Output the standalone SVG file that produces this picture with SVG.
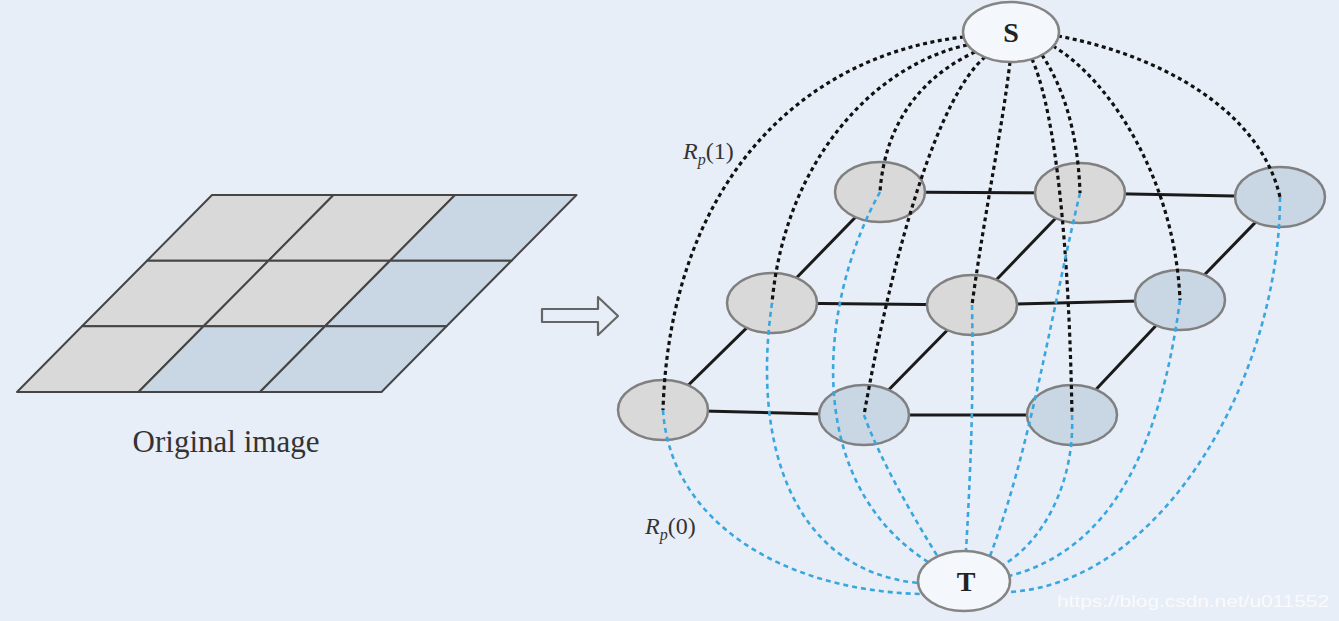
<svg xmlns="http://www.w3.org/2000/svg" width="1339" height="621" viewBox="0 0 1339 621">
<style>
.cellg{fill:#d9d9d9;stroke:#454545;stroke-width:2;stroke-linejoin:round}
.cellb{fill:#c9d6e4;stroke:#454545;stroke-width:2;stroke-linejoin:round}
.edge{stroke:#1a1a1a;stroke-width:3;fill:none}
.ng{fill:#d9d9d9;stroke:#808080;stroke-width:2.5}
.nb{fill:#c9d6e4;stroke:#808080;stroke-width:2.5}
.st{fill:#f4f7fb;stroke:#858585;stroke-width:2.5}
.bd{fill:none;stroke:#111;stroke-width:3.2;stroke-dasharray:4 3.5}
.ld{fill:none;stroke:#3aa6de;stroke-width:2.6;stroke-dasharray:5 4}
.lbl{font-family:"Liberation Serif","Times New Roman",serif;fill:#333}
.nt{font-family:"Liberation Serif","Times New Roman",serif;font-weight:bold;font-size:28px;fill:#222;text-anchor:middle}
.wm{font-family:"Liberation Sans",Arial,sans-serif;font-size:16px;fill:#ffffff;fill-opacity:0.75}
</style>
<rect width="1339" height="621" fill="#e8eef7"/>

<g id="original-image">
<polygon class="cellg" points="212,195 333.5,195 268.5,260.7 147,260.7"/>
<polygon class="cellg" points="333.5,195 455,195 390,260.7 268.5,260.7"/>
<polygon class="cellb" points="455,195 576.5,195 511.5,260.7 390,260.7"/>
<polygon class="cellg" points="147,260.7 268.5,260.7 203.5,326.3 82,326.3"/>
<polygon class="cellg" points="268.5,260.7 390,260.7 325,326.3 203.5,326.3"/>
<polygon class="cellb" points="390,260.7 511.5,260.7 446.5,326.3 325,326.3"/>
<polygon class="cellg" points="82,326.3 203.5,326.3 138.5,392 17,392"/>
<polygon class="cellb" points="203.5,326.3 325,326.3 260,392 138.5,392"/>
<polygon class="cellb" points="325,326.3 446.5,326.3 381.5,392 260,392"/>
<text class="lbl" x="226" y="452" font-size="31" text-anchor="middle">Original image</text>
</g>

<g id="arrow">
<polygon points="542,309 598,309 598,297 618,316 598,335 598,322 542,322" fill="none" stroke="#666" stroke-width="2.2" stroke-linejoin="round"/>
</g>

<g id="grid-edges">
<line class="edge" x1="880" y1="192" x2="1080" y2="193"/>
<line class="edge" x1="1080" y1="193" x2="1280" y2="197"/>
<line class="edge" x1="772" y1="303" x2="972" y2="305"/>
<line class="edge" x1="972" y1="305" x2="1180" y2="300"/>
<line class="edge" x1="663" y1="410" x2="864" y2="415"/>
<line class="edge" x1="864" y1="415" x2="1072" y2="415"/>
<line class="edge" x1="663" y1="410" x2="772" y2="303"/>
<line class="edge" x1="772" y1="303" x2="880" y2="192"/>
<line class="edge" x1="864" y1="415" x2="972" y2="305"/>
<line class="edge" x1="972" y1="305" x2="1080" y2="193" stroke-width="3.6"/>
<line class="edge" x1="1072" y1="415" x2="1180" y2="300"/>
<line class="edge" x1="1180" y1="300" x2="1280" y2="197"/>
</g>

<g id="node-TL"><ellipse class="ng" cx="880" cy="192" rx="45" ry="30"/></g>
<g id="node-TM"><ellipse class="ng" cx="1080" cy="193" rx="45" ry="30"/></g>
<g id="node-TR"><ellipse class="nb" cx="1280" cy="197" rx="45" ry="30"/></g>
<g id="node-ML"><ellipse class="ng" cx="772" cy="303" rx="45" ry="30"/></g>
<g id="node-MC"><ellipse class="ng" cx="972" cy="305" rx="45" ry="30"/></g>
<g id="node-MR"><ellipse class="nb" cx="1180" cy="300" rx="45" ry="30"/></g>
<g id="node-BL"><ellipse class="ng" cx="663" cy="410" rx="45" ry="30"/></g>
<g id="node-BC"><ellipse class="nb" cx="864" cy="415" rx="45" ry="30"/></g>
<g id="node-BR"><ellipse class="nb" cx="1072" cy="415" rx="45" ry="30"/></g>

<g id="connectors">
<path class="bd" d="M964,37 C800,55 670,185 663,410"/>
<path class="bd" d="M967,45 C875,65 785,160 772,303"/>
<path class="bd" d="M975,52 C925,75 885,120 880,192"/>
<path class="bd" d="M985,57 C940,95 895,240 864,415"/>
<path class="bd" d="M1010,62 C1002,130 985,210 972,305"/>
<path class="bd" d="M1032,59 C1050,100 1068,200 1072,415"/>
<path class="bd" d="M1042,55 C1062,85 1078,130 1080,193"/>
<path class="bd" d="M1053,46 C1110,80 1175,180 1180,300"/>
<path class="bd" d="M1058,36 C1160,55 1260,110 1280,197"/>

<path class="ld" d="M663,410 C670,520 780,590 920,594"/>
<path class="ld" d="M772,303 C752,440 790,570 918,583"/>
<path class="ld" d="M880,192 C820,300 800,480 928,562"/>
<path class="ld" d="M864,415 C880,460 915,520 938,557"/>
<path class="ld" d="M972,305 C974,400 970,480 966,551"/>
<path class="ld" d="M1080,193 C1050,320 1030,450 990,556"/>
<path class="ld" d="M1072,415 C1075,480 1045,540 1003,565"/>
<path class="ld" d="M1180,300 C1160,450 1110,550 1009,576"/>
<path class="ld" d="M1280,197 C1280,380 1160,585 1008,592"/>
</g>

<g id="node-S"><ellipse class="st" cx="1011" cy="32" rx="48" ry="30"/><text class="nt" x="1011" y="42">S</text></g>
<g id="node-T"><ellipse class="st" cx="964" cy="581" rx="46" ry="30"/><text class="nt" x="966" y="591">T</text></g>

<g id="labels">
<text class="lbl" x="683" y="159" font-size="24"><tspan font-style="italic">R</tspan><tspan font-style="italic" font-size="16" dy="6">p</tspan><tspan dy="-6">(1)</tspan></text>
<text class="lbl" x="645" y="534" font-size="24"><tspan font-style="italic">R</tspan><tspan font-style="italic" font-size="16" dy="6">p</tspan><tspan dy="-6">(0)</tspan></text>
</g>

<g id="watermark">
<text class="wm" x="1057" y="607" textLength="272" lengthAdjust="spacingAndGlyphs">https://blog.csdn.net/u011552</text>
</g>
</svg>
